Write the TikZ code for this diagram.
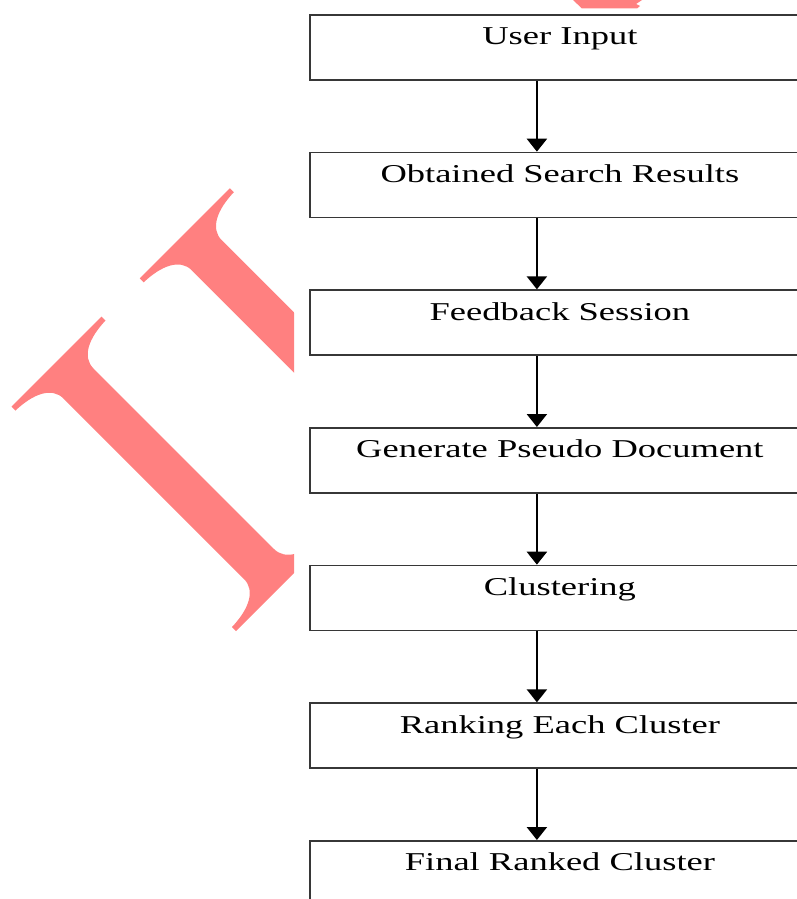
\documentclass[tikz,border=0pt]{standalone}
\usepackage{fontspec}
\setmainfont[FakeStretch=1.42]{Liberation Serif}
\usetikzlibrary{arrows.meta}
\definecolor{wm}{RGB}{255,128,128}
\definecolor{boxline}{RGB}{55,55,55}
\tikzset{
  stepbox/.style={draw=boxline, line width=1.8pt, minimum width=500pt, inner sep=0pt,
    text height=30pt, text depth=35pt, font=\fontsize{25.7}{30}\selectfont, anchor=north west},
  flowarrow/.style={draw=black, line width=2.4pt, -{Triangle[width=20pt,length=13pt]}},
  wmfill/.style={fill=wm, draw=none}
}
\newcommand\wmletter[1]{%
  \fill[wmfill] (418,#1-90) -- (418,#1+90) -- (426,#1+90)
    .. controls (427,#1+55) and (439,#1+30) .. (462,#1+30) -- (823,#1+30)
    .. controls (846,#1+30) and (858,#1+55) .. (859,#1+90) -- (867,#1+90)
    -- (867,#1-90) -- (859,#1-90)
    .. controls (858,#1-55) and (846,#1-30) .. (823,#1-30) -- (462,#1-30)
    .. controls (439,#1-30) and (427,#1-55) .. (426,#1-90) -- cycle;}
\begin{document}
\begin{tikzpicture}[x=1pt,y=-1pt]
\fill[white] (0,0) rectangle (797,899);
\clip (0,0) rectangle (797,899);
% watermark
\begin{scope}
  \clip (0,0) -- (797,0) -- (797,9) -- (294,9) -- (294,899) -- (0,899) -- cycle;
  \begin{scope}[x={(0.5pt,-0.5pt)}, y={(-0.5pt,-0.5pt)}]
    \wmletter{48.5}
    \wmletter{305}
  \end{scope}
  \fill[wmfill] (573,0) -- (642,0) -- (636,4) -- (640,6) -- (637,8.5) -- (582,8.5) -- cycle;
\end{scope}
% flowchart
\node[stepbox] (b1) at (309,14) {User Input};
\node[stepbox] (b2) at (309,151.67) {Obtained Search Results};
\node[stepbox] (b3) at (309,289.33) {Feedback Session};
\node[stepbox] (b4) at (309,427) {Generate Pseudo Document};
\node[stepbox] (b5) at (309,564.67) {Clustering};
\node[stepbox] (b6) at (309,702.33) {Ranking Each Cluster};
\node[stepbox] (b7) at (309,840) {Final Ranked Cluster};
\foreach \a/\b in {b1/b2,b2/b3,b3/b4,b4/b5,b5/b6,b6/b7}
  \draw[flowarrow] ([xshift=-23pt]\a.south) -- ([xshift=-23pt]\b.north);
\end{tikzpicture}
\end{document}
